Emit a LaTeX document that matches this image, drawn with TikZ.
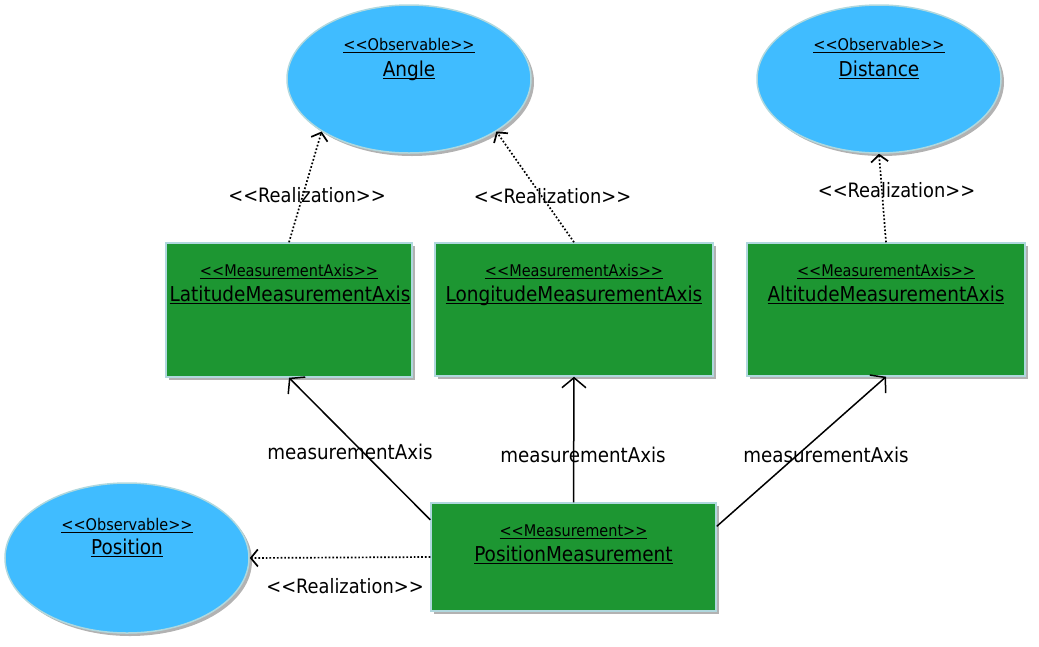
\documentclass[tikz,border=0pt]{standalone}
\usepackage{fontspec}
\setmainfont{DejaVu Sans Condensed}
\usetikzlibrary{shapes.geometric,arrows.meta,shadows,calc}

\definecolor{obsfill}{RGB}{64,188,255}
\definecolor{clsfill}{RGB}{29,150,50}
\definecolor{edgeline}{RGB}{176,216,222}

% underlined text with a slightly heavier rule
\newcommand{\undl}[1]{\setbox0=\hbox{#1}\rlap{\raisebox{-2.6pt}{\rule{\wd0}{1.1pt}}}\box0}
% guillemet-like brackets kept as two separate characters
\newcommand{\ltlt}{<\kern0pt<}
\newcommand{\gtgt}{>\kern0pt>}

\begin{document}
\begin{tikzpicture}[x=1pt,y=-1pt,
  softshadow/.style={drop shadow={shadow xshift=3pt,shadow yshift=-3pt,fill=black,opacity=0.3}},
  observable/.style={ellipse,draw=edgeline,line width=1.5pt,fill=obsfill,
    minimum width=244pt,minimum height=148pt,inner sep=0pt,softshadow},
  classbox/.style={rectangle,draw=edgeline,line width=1.5pt,fill=clsfill,
    inner sep=0pt,softshadow},
  stereo/.style={font=\fontsize{16.1}{19}\selectfont,inner sep=0pt,anchor=base},
  title/.style={font=\fontsize{20.5}{24}\selectfont,inner sep=0pt,anchor=base},
  lbl/.style={font=\fontsize{19.8}{23}\selectfont,inner sep=0pt},
  assoclbl/.style={font=\fontsize{20.3}{23}\selectfont,inner sep=0pt},
  realize/.style={dotted,line width=1.7pt,
    -{Straight Barb[length=7pt,width=17pt,line width=1.7pt]}},
  assoc/.style={line width=1.5pt,
    -{Straight Barb[length=10pt,width=24pt,line width=1.5pt]}}]

\useasboundingbox (0,0) rectangle (1039,646);

% observables
\node[observable] (angle) at (409,79) {};
\node[stereo] (angleS) at (409,50.5) {\undl{\ltlt Observable\gtgt}};
\node[title] (angleT) at (409,76) {\undl{Angle}};

\node[observable] (dist) at (879,79) {};
\node[stereo] (distS) at (879,50.5) {\undl{\ltlt Observable\gtgt}};
\node[title] (distT) at (879,76) {\undl{Distance}};

\node[observable,minimum height=150pt] (pos) at (127,558) {};
\node[stereo] (posS) at (127,530) {\undl{\ltlt Observable\gtgt}};
\node[title] (posT) at (127,554) {\undl{Position}};

% measurement axes
\node[classbox,minimum width=246pt,minimum height=134pt] (lat) at (289,310) {};
\node[stereo] (latS) at (289,276.7) {\undl{\ltlt MeasurementAxis\gtgt}};
\node[title] (latT) at (290,301.7) {\undl{LatitudeMeasurementAxis}};

\node[classbox,minimum width=278pt,minimum height=133pt] (lon) at (574,309.5) {};
\node[stereo] (lonS) at (574,276.7) {\undl{\ltlt MeasurementAxis\gtgt}};
\node[title] (lonT) at (574,301.7) {\undl{LongitudeMeasurementAxis}};

\node[classbox,minimum width=278pt,minimum height=133pt] (alt) at (886,309.5) {};
\node[stereo] (altS) at (886,276.7) {\undl{\ltlt MeasurementAxis\gtgt}};
\node[title] (altT) at (886,301.7) {\undl{AltitudeMeasurementAxis}};

% measurement
\node[classbox,minimum width=285pt,minimum height=108pt] (pm) at (573.5,557) {};
\node[stereo] (pmS) at (573.5,536.7) {\undl{\ltlt Measurement\gtgt}};
\node[title] (pmT) at (573.5,561.7) {\undl{PositionMeasurement}};

% realizations
\draw[realize] (lat.north) -- (angle.211);
\draw[realize] (lon.north) -- (angle.-31.5);
\draw[realize] (alt.north) -- (dist.south);
\draw[realize] (pm.west) -- (pos.east);

\node[lbl] (r1) at (307,195) {\ltlt Realization\gtgt};
\node[lbl] (r2) at (552.5,196) {\ltlt Realization\gtgt};
\node[lbl] (r3) at (896.5,190) {\ltlt Realization\gtgt};
\node[lbl] (r4) at (345,586) {\ltlt Realization\gtgt};

% associations
\coordinate (pmL) at ($(pm.north west)!0.16!(pm.south west)$);
\coordinate (pmR) at ($(pm.north east)!0.22!(pm.south east)$);
\draw[assoc] (pmL) -- (lat.south);
\draw[assoc] (pm.north) -- (lon.south);
\draw[assoc] (pmR) -- (alt.south);

\node[assoclbl] (m1) at (350,452) {measurementAxis};
\node[assoclbl] (m2) at (583,455) {measurementAxis};
\node[assoclbl] (m3) at (826,455) {measurementAxis};
\end{tikzpicture}
\end{document}
